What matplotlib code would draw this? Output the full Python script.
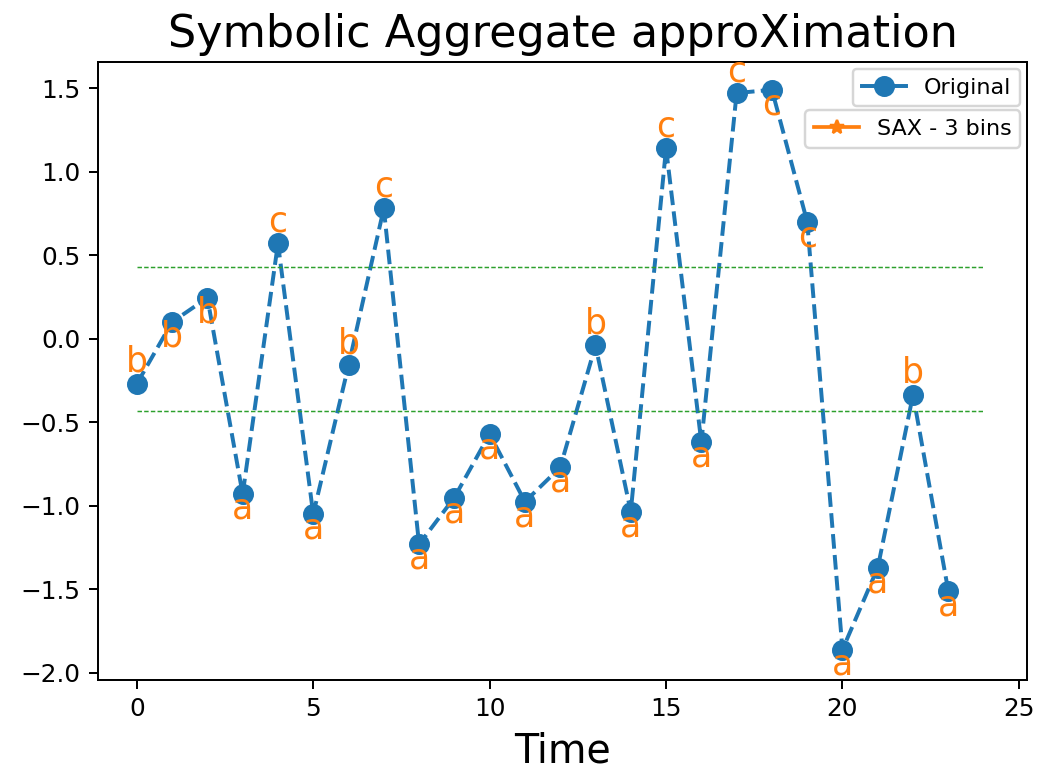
import numpy as np
import matplotlib
matplotlib.use("Agg")
import matplotlib.pyplot as plt
from matplotlib.lines import Line2D

# values
time = list(range(24))
values = [-0.27, 0.10, 0.245, -0.93, 0.57, -1.05, -0.16, 0.78,
          -1.23, -0.95, -0.57, -0.975, -0.77, -0.04, -1.035, 1.14,
          -0.62, 1.47, 1.49, 0.70, -1.86, -1.37, -0.335, -1.51]
symbols = ['b', 'b', 'b', 'a', 'c', 'a', 'b', 'c',
           'a', 'a', 'a', 'a', 'a', 'b', 'a', 'c',
           'a', 'c', 'c', 'c', 'a', 'a', 'b', 'a']
breakpoints = [-0.43, 0.43]

# where each letter sits relative to its point (1 = above, -1 = below)
side = [1, -1, -1, -1, 1, -1, 1, 1,
        -1, -1, -1, -1, -1, 1, -1, 1,
        -1, 1, -1, -1, -1, -1, 1, -1]

DPI = 178
fig = plt.figure(figsize=(1038 / DPI, 772 / DPI), dpi=DPI)
ax = fig.add_axes([98 / 1038, 1 - 680 / 772, (1027 - 98) / 1038, (680 - 62) / 772])

ax.plot(time, values, 'o--', color='C0', markersize=7.5, linewidth=1.6)

for b in breakpoints:
    ax.plot([0, 24], [b, b], '--', color='C2', linewidth=0.6, dashes=(3, 1.5))

for t, v, s, d in zip(time, values, symbols, side):
    if d > 0:
        ax.text(t, v + 0.03, s, color='C1', fontsize=14, ha='center', va='bottom')
    else:
        ax.text(t, v + 0.015, s, color='C1', fontsize=14, ha='center', va='top')

ax.set_xlim(-1.1, 25.23)
ax.set_ylim(-2.042, 1.656)
ax.set_xticks([0, 5, 10, 15, 20, 25])
ax.set_title('Symbolic Aggregate approXimation', fontsize=18)
ax.set_xlabel('Time', fontsize=16)

orig_handle = Line2D([], [], color='C0', marker='o', markersize=7.5, linewidth=1.6)
leg1 = ax.legend([orig_handle], ['Original'], loc='upper right', fontsize=9,
                 borderaxespad=0.3)
ax.add_artist(leg1)
sax_handle = Line2D([], [], color='C1', marker='*')
ax.legend([sax_handle], ['SAX - 3 bins'], loc='upper right', fontsize=9,
          borderaxespad=0.3, bbox_to_anchor=(1.0, 0.933))

fig.savefig('out.png', dpi=DPI)
